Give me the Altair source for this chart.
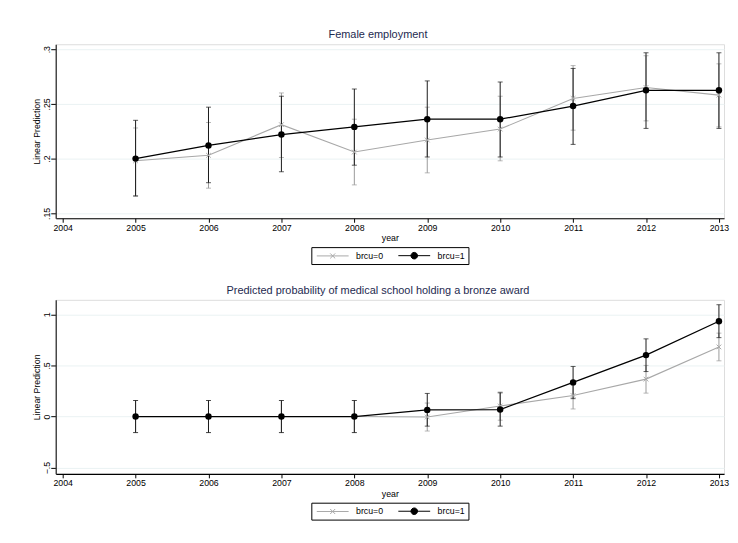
import altair as alt
import pandas as pd

years = [2005, 2006, 2007, 2008, 2009, 2010, 2011, 2012, 2013]
series_names = ["brcu=0", "brcu=1"]

fe_b0 = [0.198, 0.203, 0.231, 0.206, 0.217, 0.227, 0.255, 0.265, 0.258]
fe_b0_lo = [0.1655, 0.173, 0.201, 0.176, 0.187, 0.198, 0.226, 0.2345, 0.229]
fe_b0_hi = [0.228, 0.233, 0.260, 0.236, 0.247, 0.257, 0.285, 0.294, 0.2866]
fe_b1 = [0.200, 0.212, 0.222, 0.229, 0.236, 0.236, 0.248, 0.2624, 0.2624]
fe_b1_lo = [0.166, 0.178, 0.188, 0.194, 0.2015, 0.2015, 0.213, 0.2276, 0.2276]
fe_b1_hi = [0.235, 0.247, 0.257, 0.2636, 0.271, 0.270, 0.2824, 0.2967, 0.2967]

bz_b0 = [0.0, 0.0, 0.0, 0.0, -0.005, 0.103, 0.205, 0.366, 0.681]
bz_b0_lo = [-0.157, -0.157, -0.157, -0.157, -0.142, -0.036, 0.074, 0.229, 0.545]
bz_b0_hi = [0.157, 0.157, 0.157, 0.157, 0.132, 0.240, 0.336, 0.500, 0.816]
bz_b1 = [0.0, 0.0, 0.0, 0.0, 0.065, 0.068, 0.334, 0.601, 0.932]
bz_b1_lo = [-0.157, -0.157, -0.157, -0.157, -0.094, -0.094, 0.175, 0.440, 0.772]
bz_b1_hi = [0.157, 0.157, 0.157, 0.157, 0.226, 0.232, 0.490, 0.760, 1.094]

titles = ["Female employment",
          "Predicted probability of medical school holding a bronze award"]
x_ticks = list(range(2004, 2014))
fe_yticks = [0.15, 0.2, 0.25, 0.3]
bz_yticks = [-0.5, 0, 0.5, 1]

FONT = "Liberation Sans"
line_colors = ["#a8a8a8", "#000000"]
ci_colors = ["#9a9a9a", "#1a1a1a"]

X_PATH = "M-1,-1L1,1M-1,1L1,-1"
LEG0 = "M-3.2,0L3.2,0M-0.5,-0.5L0.5,0.5M-0.5,0.5L0.5,-0.5"
LEG1 = "M-3.2,0L3.2,0M0.66,0A0.66,0.66,0,1,1,-0.66,0A0.66,0.66,0,1,1,0.66,0Z"


def make_df(s0, s0lo, s0hi, s1, s1lo, s1hi):
    rows = []
    for name, est, lo, hi in [(series_names[0], s0, s0lo, s0hi),
                              (series_names[1], s1, s1lo, s1hi)]:
        for yr, e, l, h in zip(years, est, lo, hi):
            rows.append({"year": yr, "series": name, "est": e, "lo": l, "hi": h})
    return pd.DataFrame(rows)


label_expr = ("datum.value == 0 ? '0' : "
              "replace(replace(format(datum.value, '~g'), '0.', '.'), '-', '\u2212')")


def panel(df, title, ydomain, yticks):
    xscale = alt.Scale(domain=[2003.905, 2013.07], nice=False, zero=False)
    yscale = alt.Scale(domain=ydomain, nice=False, zero=False)
    x = alt.X("year:Q", scale=xscale,
              axis=alt.Axis(values=x_ticks, format="d", title="year", grid=False,
                            labelFont=FONT, labelFontSize=8.8, titleFont=FONT,
                            titleFontSize=8.8, titleFontWeight="normal",
                            labelColor="#000", titleColor="#000",
                            domainColor="#000", domainWidth=1.2, tickColor="#000",
                            tickSize=4, labelPadding=1, titlePadding=2,
                            labelFlush=False))
    yaxis = alt.Axis(values=yticks, labelExpr=label_expr, title="Linear Prediction",
                     grid=True, gridColor="#eaf2f3", gridWidth=1,
                     labelAngle=270, labelAlign="center", labelBaseline="alphabetic",
                     labelFont=FONT, labelFontSize=8.8, titleFont=FONT,
                     titleFontSize=8.8, titleFontWeight="normal",
                     labelColor="#000", titleColor="#000",
                     domainColor="#333", domainWidth=1.3, tickColor="#000",
                     tickSize=5, labelPadding=1, titlePadding=1.5)
    y = alt.Y("est:Q", scale=yscale, axis=yaxis)
    ylo = alt.Y("lo:Q", scale=yscale, axis=yaxis)
    yhi = alt.Y("hi:Q", scale=yscale, axis=yaxis)
    base = alt.Chart(df)

    layers = []
    for name, cc in zip(series_names, ci_colors):
        sub = base.transform_filter(alt.datum.series == name)
        layers.append(sub.mark_rule(strokeWidth=1, color=cc).encode(x=x, y=ylo, y2="hi:Q"))
        layers.append(sub.mark_tick(orient="horizontal", size=5, thickness=1, color=cc)
                      .encode(x=x, y=ylo))
        layers.append(sub.mark_tick(orient="horizontal", size=5, thickness=1, color=cc)
                      .encode(x=x, y=yhi))
    for name, lc, w in zip(series_names, line_colors, [1.1, 1.3]):
        sub = base.transform_filter(alt.datum.series == name)
        layers.append(sub.mark_line(strokeWidth=w, color=lc).encode(x=x, y=y))
    layers.append(base.transform_filter(alt.datum.series == series_names[0])
                  .mark_point(shape=X_PATH, filled=False, size=22, strokeWidth=1,
                              color=line_colors[0], opacity=1)
                  .encode(x=x, y=y))
    layers.append(base.transform_filter(alt.datum.series == series_names[1])
                  .mark_circle(size=42, color=line_colors[1], opacity=1)
                  .encode(x=x, y=y))

    leg = alt.Legend(orient="none", legendX=257, legendY=204, direction="horizontal",
                     title=None, symbolSize=100, symbolStrokeWidth=1,
                     symbolOpacity=1, symbolOffset=13,
                     labelFont=FONT, labelFontSize=8.8, labelColor="#000",
                     labelOffset=18, columnPadding=12, padding=3,
                     strokeColor="#000")
    layers.append(base.transform_filter(alt.datum.year < 0)
                  .mark_point(strokeWidth=1, opacity=1)
                  .encode(x=x, y=y,
                          shape=alt.Shape("series:N", scale=alt.Scale(domain=series_names, range=[LEG0, LEG1]), legend=leg),
                          stroke=alt.Stroke("series:N", scale=alt.Scale(domain=series_names, range=line_colors), legend=leg),
                          fill=alt.Fill("series:N", scale=alt.Scale(domain=series_names, range=["transparent", "#000000"]), legend=leg)))

    return alt.layer(*layers).properties(
        width=672, height=175,
        title=alt.TitleParams(title, font=FONT, fontSize=11, fontWeight="normal",
                              color="#1e2a50", anchor="middle", offset=4, dx=-12),
    )


top = panel(make_df(fe_b0, fe_b0_lo, fe_b0_hi, fe_b1, fe_b1_lo, fe_b1_hi),
            titles[0], [0.1455, 0.3045], fe_yticks)
bottom = panel(make_df(bz_b0, bz_b0_lo, bz_b0_hi, bz_b1, bz_b1_lo, bz_b1_hi),
               titles[1], [-0.561, 1.142], bz_yticks)

chart = alt.vconcat(top, bottom, spacing=19).resolve_scale(
    shape="independent", stroke="independent", fill="independent",
    x="independent", y="independent"
).resolve_legend(shape="independent", stroke="independent", fill="independent").properties(
    padding={"left": 24, "top": 19, "right": 0, "bottom": 5}
).configure_view(stroke=None).configure(background="white")

chart.save("out.html", embed_options={"renderer": "svg", "actions": False})
